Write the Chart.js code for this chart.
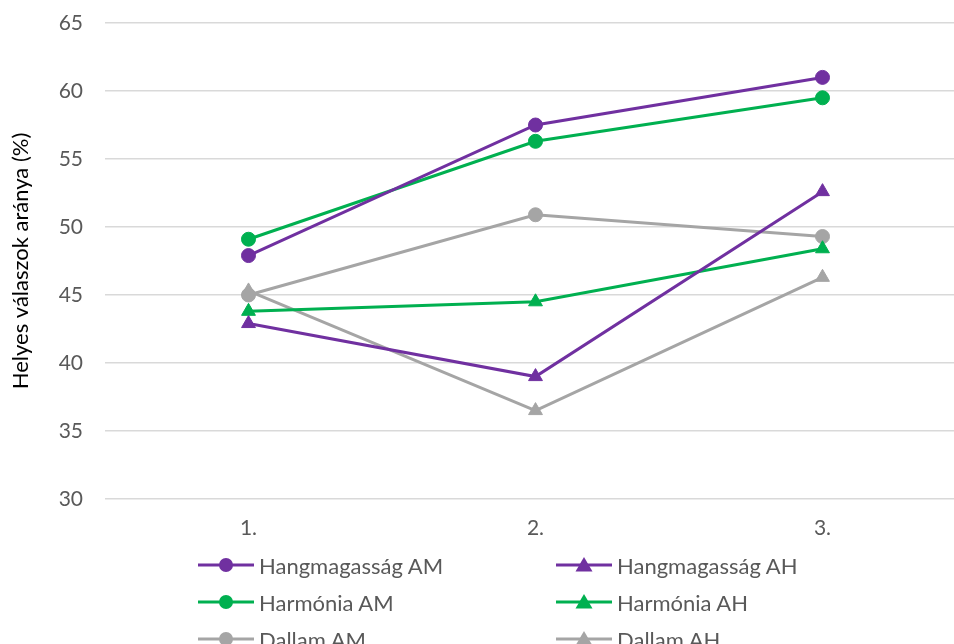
<!DOCTYPE html>
<html>
<head>
<meta charset="utf-8">
<script src="https://cdn.jsdelivr.net/npm/chart.js@4"></script>
<style>
  html, body { margin: 0; padding: 0; background: #fff; overflow: hidden; width: 954px; height: 644px; }
  #wrap { position: absolute; left: 0; top: 0; width: 975px; height: 545px; }
  #legend { position: absolute; left: 0; top: 0; width: 954px; height: 644px; pointer-events: none; }
  .item { position: absolute; display: flex; align-items: center; font-family: Lato, "Open Sans", sans-serif; font-size: 22px; color: #595959; white-space: nowrap; }
  .item canvas { display: block; margin-right: 5px; }
</style>
</head>
<body>
<div id="wrap"><canvas id="c" width="975" height="545"></canvas></div>
<div id="legend"></div>
<script>
const categories = ["1.", "2.", "3."];
const seriesNames = ["Hangmagasság AM", "Hangmagasság AH", "Harmónia AM", "Harmónia AH", "Dallam AM", "Dallam AH"];
const hangmagassagAM = [47.9, 57.5, 61.0];
const hangmagassagAH = [42.9, 39.0, 52.6];
const harmoniaAM = [49.1, 56.3, 59.5];
const harmoniaAH = [43.8, 44.5, 48.4];
const dallamAM = [45.0, 50.9, 49.3];
const dallamAH = [45.3, 36.5, 46.3];
const yTitle = "Helyes válaszok aránya (%)";

const PURPLE = "#7030A0", GREEN = "#00B050", GRAY = "#A5A5A5";
const seriesData = [hangmagassagAM, hangmagassagAH, harmoniaAM, harmoniaAH, dallamAM, dallamAH];
const seriesColors = [PURPLE, PURPLE, GREEN, GREEN, GRAY, GRAY];
const seriesShapes = ["circle", "triangle", "circle", "triangle", "circle", "triangle"];

const datasets = seriesNames.map((n, i) => ({
  label: n,
  data: seriesData[i],
  borderColor: seriesColors[i],
  backgroundColor: seriesColors[i],
  pointBackgroundColor: seriesColors[i],
  pointBorderColor: seriesColors[i],
  pointStyle: seriesShapes[i],
  pointRadius: seriesShapes[i] === "circle" ? 7 : 8,
  pointBorderWidth: 1,
  borderWidth: 3,
  tension: 0,
  fill: false
}));

const tickFont = { family: "Lato, 'Open Sans', sans-serif", size: 21 };

const chart = new Chart(document.getElementById("c"), {
  type: "line",
  data: { labels: categories, datasets: datasets },
  options: {
    responsive: false,
    animation: false,
    layout: { padding: { top: 23, right: 4, left: 0, bottom: 0 } },
    plugins: { legend: { display: false }, tooltip: { enabled: false } },
    scales: {
      x: {
        offset: true,
        grid: { display: false, drawTicks: false },
        border: { display: false },
        ticks: { color: "#595959", font: tickFont, padding: 17 },
        afterFit: (s) => { s.height = 46; }
      },
      y: {
        min: 30, max: 65,
        ticks: { stepSize: 5, color: "#595959", font: tickFont, padding: 0 },
        grid: { color: "#D9D9D9", lineWidth: 1.5, drawTicks: true, tickLength: 22, tickColor: "rgba(0,0,0,0)" },
        border: { display: false },
        title: { display: true, text: yTitle, color: "#000", font: { family: "Lato, 'Open Sans', sans-serif", size: 22 }, padding: { top: 8, bottom: 0 } },
        afterFit: (s) => { s.width = 105; }
      }
    }
  }
});

// calibrate the plot-area frame to the reference layout
for (let k = 0; k < 3; k++) {
  const ca = chart.chartArea;
  const p = chart.options.layout.padding;
  p.top += 23 - ca.top;
  p.right += ca.right - 966;
  chart.update();
}

// HTML legend built from the chart's datasets
const legend = document.getElementById("legend");
const colX = [198, 556];
const rowY = [565, 602, 639];
chart.data.datasets.forEach((ds, i) => {
  const div = document.createElement("div");
  div.className = "item";
  const col = i % 2, row = Math.floor(i / 2);
  div.style.left = colX[col] + "px";
  div.style.top = (rowY[row] - 14) + "px";
  div.style.height = "28px";
  const cv = document.createElement("canvas");
  cv.width = 56; cv.height = 28;
  const g = cv.getContext("2d");
  g.strokeStyle = ds.borderColor; g.lineWidth = 3;
  g.beginPath(); g.moveTo(0, 14); g.lineTo(56, 14); g.stroke();
  g.fillStyle = ds.borderColor;
  if (ds.pointStyle === "circle") {
    g.beginPath(); g.arc(28, 14, 7, 0, Math.PI * 2); g.fill();
  } else {
    g.beginPath(); g.moveTo(28, 6); g.lineTo(36.5, 20.5); g.lineTo(19.5, 20.5); g.closePath(); g.fill();
  }
  div.appendChild(cv);
  const sp = document.createElement("span");
  sp.textContent = ds.label;
  div.appendChild(sp);
  legend.appendChild(div);
});
</script>
</body>
</html>
